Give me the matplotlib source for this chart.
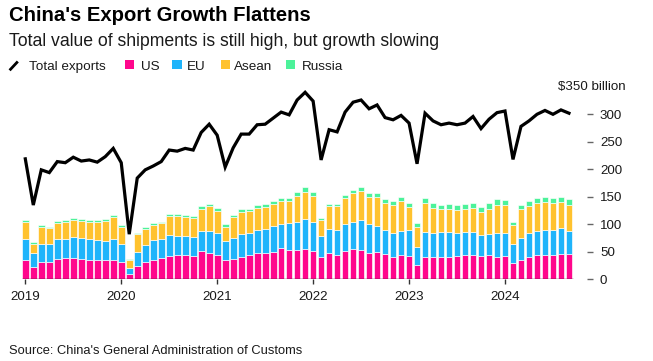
import matplotlib
matplotlib.use("Agg")
import matplotlib.pyplot as plt
import numpy as np
from matplotlib.lines import Line2D
from matplotlib.patches import Rectangle

plt.rcParams['font.family'] = ['Liberation Sans', 'DejaVu Sans']

# ---------------- data (billion USD, monthly Jan 2019 - Sep 2024) ----------------
years = ['2019', '2020', '2021', '2022', '2023', '2024']

total = [219, 135, 199, 194, 214, 212, 222, 215, 217, 213, 223, 238,
         212, 82, 184, 199, 206, 214, 235, 233, 238, 235, 267, 282,
         262, 204, 239, 264, 264, 281, 282, 293, 304, 299, 326, 340,
         324, 217, 272, 268, 304, 322, 326, 310, 317, 294, 290, 298,
         284, 210, 302, 288, 281, 284, 281, 284, 296, 274, 291, 303,
         306, 218, 278, 288, 300, 307, 300, 308, 302]

us = [36, 22, 31.5, 31, 37, 39, 38, 37, 36, 36, 36, 35,
      31.5, 10, 24, 31.5, 36, 39, 43, 44, 44, 43, 51, 47,
      44, 36, 37.6, 41, 44, 47, 48.5, 50, 57, 53, 54, 56,
      51.5, 40, 47, 45, 52, 55, 53, 48.5, 50, 46, 40, 45,
      43, 26, 41, 41, 41, 41, 42, 45, 45, 43, 43.6, 41,
      42, 30, 36, 41, 43.6, 45, 45, 46, 46]

eu = [38, 26, 33.5, 34, 36, 35, 39, 39, 38, 36, 34, 39,
      33.5, 11, 26, 31.5, 35.5, 34, 37, 35, 34, 34, 37.5, 41,
      40, 33, 37, 41, 40, 43, 43.5, 47, 44, 49, 50, 53,
      52, 38, 44.5, 44, 48, 50, 55, 52, 47.6, 44, 45, 43.5,
      47, 32, 45, 44, 45, 44.5, 41.6, 40.5, 41.7, 37.6, 38.4, 44,
      42, 34, 39, 42.6, 43.4, 45, 45, 48, 42]

asean = [30, 17, 31, 28, 30, 31, 30, 30, 30, 32, 36, 39,
         31, 14, 32, 29, 27.5, 29, 35, 35.5, 35, 34.5, 40, 45,
         41, 27, 38.5, 41, 40, 40, 40, 40, 41, 40.4, 48, 50,
         48, 29, 41.5, 44, 48, 52.6, 53, 49.4, 51.4, 49, 50, 53.5,
         42, 36.5, 52, 45, 41, 43, 42.4, 43, 43.3, 42.4, 46.5, 50,
         50.5, 34, 52, 50.4, 51, 50.6, 48, 46.6, 46.5]

russia = [4, 3, 3, 3, 3, 3, 4, 4, 4, 4, 4, 4,
          3, 2, 3, 4, 4, 3, 4, 4.5, 4, 3.5, 4.5, 4.6,
          4, 4.6, 3, 5, 4, 5, 5, 5, 6, 5.6, 7, 8,
          7.5, 5, 4.6, 4, 5, 4.4, 6, 7.6, 8, 7.7, 7, 8,
          7, 7.5, 9, 9, 8, 9, 9, 8.5, 9, 8.5, 10.5, 11,
          9.5, 7, 8, 8, 10, 9.4, 10.5, 9.4, 12.2]

y_ticks = [0, 50, 100, 150, 200, 250, 300]

PINK = '#ff068c'
BLUE = '#1fb4fb'
YELLOW = '#ffc22e'
GREEN = '#4cf29a'

# ---------------- figure ----------------
W, H = 653, 361
fig = plt.figure(figsize=(W / 100, H / 100), dpi=100)

def P(x, y):
    return (x / W, 1 - y / H)

ax_left, ax_right, ax_top, ax_bottom = 18, 593, 86.8, 279.3
ax = fig.add_axes([ax_left / W, 1 - ax_bottom / H,
                   (ax_right - ax_left) / W, (ax_bottom - ax_top) / H])

n = len(total)
x = np.arange(n)
px_per_month = 7.995
first_center = 25.3
ax.set_xlim((ax_left - first_center) / px_per_month,
            (ax_right - first_center) / px_per_month)
ax.set_ylim(0, 350)

bottom = np.zeros(n)
for vals, col in [(us, PINK), (eu, BLUE), (asean, YELLOW), (russia, GREEN)]:
    v = np.array(vals, dtype=float)
    ax.bar(x, v, bottom=bottom, width=0.84, color=col, edgecolor='white',
           linewidth=0.45, zorder=2)
    bottom += v

ax.plot(x, total, color='black', lw=2.3, zorder=4, solid_joinstyle='miter')
ax.hlines(0, -0.45, n - 1 + 0.45, color='#222222', lw=1.0, zorder=5)

for s in ax.spines.values():
    s.set_visible(False)

ax.yaxis.tick_right()
ax.set_yticks(y_ticks)
ax.set_yticklabels([str(v) for v in y_ticks])
ax.tick_params(axis='y', direction='in', length=4.3, width=1.0, color='#666666',
               pad=5, labelsize=9.6, labelcolor='#1a1a1a')

ax.set_xticks([12 * i for i in range(len(years))])
ax.set_xticklabels(years)
ax.tick_params(axis='x', direction='out', length=3.6, width=1.0, color='#333333',
               pad=5, labelsize=9.6, labelcolor='#1a1a1a')
ax.set_facecolor('none')

fig.text(*P(626, 87), '$350 billion', ha='right', va='center', fontsize=9.6,
         color='#1a1a1a')

# ---------------- titles ----------------
renderer = fig.canvas.get_renderer()

def fit(t, target_w):
    w = t.get_window_extent(renderer).width
    t.set_fontsize(t.get_fontsize() * target_w / w)

t1 = fig.text(*P(9, 21), "China's Export Growth Flattens", ha='left', va='baseline',
              fontsize=14, fontweight='bold', color='black')
fit(t1, 302)
t2 = fig.text(*P(9, 45.5), 'Total value of shipments is still high, but growth slowing',
              ha='left', va='baseline', fontsize=12, color='#1a1a1a')
fit(t2, 432)
t3 = fig.text(*P(9, 354), "Source: China's General Administration of Customs",
              ha='left', va='baseline', fontsize=8.5, color='#1a1a1a')
fit(t3, 294)

# ---------------- legend ----------------
leg_fs = 10.6
fig.add_artist(Line2D([9.6 / W, 17.8 / W], [1 - 70.3 / H, 1 - 61.5 / H],
                      color='black', lw=2.0, solid_capstyle='butt'))
items = [('Total exports', 29, None, None),
         ('US', 141, 125, PINK),
         ('EU', 186.7, 172.3, BLUE),
         ('Asean', 233.5, 221, YELLOW),
         ('Russia', 301.7, 286, GREEN)]
texts = []
for label, tx, sx, col in items:
    if sx is not None:
        fig.add_artist(Rectangle(P(sx, 69.2), 9.3 / W, 9.6 / H, color=col,
                                 transform=fig.transFigure, lw=0))
    texts.append(fig.text(*P(tx, 70), label, ha='left', va='baseline',
                          fontsize=leg_fs, color='#1a1a1a'))
fit(texts[-1], 41.5)
for t in texts:
    t.set_fontsize(texts[-1].get_fontsize())

fig.savefig('out.png', dpi=100)
